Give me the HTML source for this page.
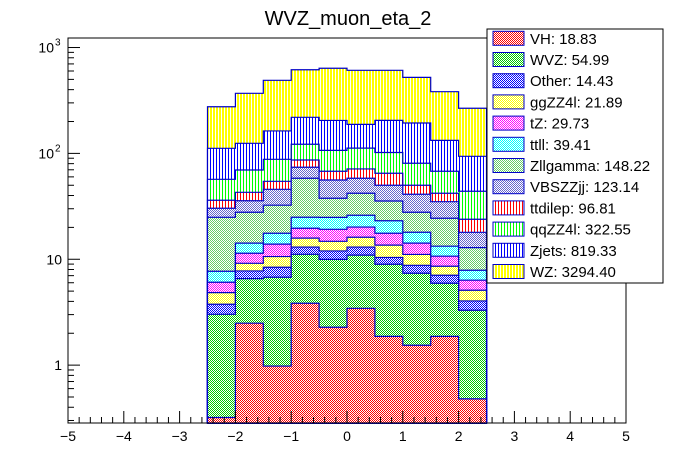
<!DOCTYPE html>
<html><head><meta charset="utf-8"><style>
html,body{margin:0;padding:0;background:#fff;}
svg{display:block;font-family:"Liberation Sans",Arial,sans-serif;}
pattern rect{shape-rendering:crispEdges;}
</style></head><body>
<svg id="chart" width="696" height="472" viewBox="0 0 696 472" xmlns="http://www.w3.org/2000/svg">
<defs>
<pattern id="p-red" width="2" height="2" patternUnits="userSpaceOnUse"><rect width="2" height="2" fill="#fff"/><rect width="1" height="1" fill="#f00"/><rect x="1" y="1" width="1" height="1" fill="#f00"/></pattern>
<pattern id="p-green" width="2" height="2" patternUnits="userSpaceOnUse"><rect width="2" height="2" fill="#fff"/><rect width="1" height="1" fill="#0c0"/><rect x="1" y="1" width="1" height="1" fill="#0c0"/></pattern>
<pattern id="p-blue" width="2" height="2" patternUnits="userSpaceOnUse"><rect width="2" height="2" fill="#fff"/><rect width="1" height="1" fill="#00f"/><rect x="1" y="1" width="1" height="1" fill="#00f"/></pattern>
<pattern id="p-yellow" width="2" height="2" patternUnits="userSpaceOnUse"><rect width="2" height="2" fill="#fff"/><rect width="1" height="1" fill="#ff0"/><rect x="1" y="1" width="1" height="1" fill="#ff0"/></pattern>
<pattern id="p-magenta" width="2" height="2" patternUnits="userSpaceOnUse"><rect width="2" height="2" fill="#fff"/><rect width="1" height="1" fill="#f0f"/><rect x="1" y="1" width="1" height="1" fill="#f0f"/></pattern>
<pattern id="p-cyan" width="2" height="2" patternUnits="userSpaceOnUse"><rect width="2" height="2" fill="#fff"/><rect width="1" height="1" fill="#0ff"/><rect x="1" y="1" width="1" height="1" fill="#0ff"/></pattern>
<pattern id="p-zllg" width="2" height="2" patternUnits="userSpaceOnUse"><rect width="2" height="2" fill="#fff"/><rect width="1" height="1" fill="#6c6"/><rect x="1" y="1" width="1" height="1" fill="#6c6"/></pattern>
<pattern id="p-vbs" width="2" height="2" patternUnits="userSpaceOnUse"><rect width="2" height="2" fill="#fff"/><rect width="1" height="1" fill="#66c"/><rect x="1" y="1" width="1" height="1" fill="#66c"/></pattern>
<pattern id="s-red" width="3" height="3" patternUnits="userSpaceOnUse"><rect width="3" height="3" fill="#fff"/><rect width="1" height="3" fill="#f00"/></pattern>
<pattern id="s-green" width="3" height="3" patternUnits="userSpaceOnUse"><rect width="3" height="3" fill="#fff"/><rect width="1" height="3" fill="#0f0"/></pattern>
<pattern id="s-blue" width="3" height="3" patternUnits="userSpaceOnUse"><rect width="3" height="3" fill="#fff"/><rect width="1" height="3" fill="#00f"/></pattern>
<pattern id="s-yellow" width="3" height="3" patternUnits="userSpaceOnUse"><rect width="3" height="3" fill="#fff"/><rect width="2" height="3" fill="#ff0"/></pattern>
</defs>
<text x="348" y="25" font-size="20" text-anchor="middle">WVZ_muon_eta_2</text>
<g id="bars"></g>
<g id="axes"></g>
<g id="legend"></g>
</svg>
<script>
const binEdgesLow = [-2.5,-2.0,-1.5,-1.0,-0.5,0.0,0.5,1.0,1.5,2.0];
const binWidth = 0.5;
const processNames = ["VH","WVZ","Other","ggZZ4l","tZ","ttll","Zllgamma","VBSZZjj","ttdilep","qqZZ4l","Zjets","WZ"];
const legendLabels = ["VH: 18.83","WVZ: 54.99","Other: 14.43","ggZZ4l: 21.89","tZ: 29.73","ttll: 39.41","Zllgamma: 148.22","VBSZZjj: 123.14","ttdilep: 96.81","qqZZ4l: 322.55","Zjets: 819.33","WZ: 3294.40"];
const fills = ["p-red","p-green","p-blue","p-yellow","p-magenta","p-cyan","p-zllg","p-vbs","s-red","s-green","s-blue","s-yellow"];
const valVH       = [0.32,2.49,0.98,3.84,2.28,3.44,1.87,1.54,1.87,0.48];
const valWVZ      = [2.7,4.07,5.78,7.3,7.7,7.5,7.1,5.84,4.06,2.82];
const valOther    = [0.74,1.2,1.64,1.9,2.0,2.1,1.43,1.39,1.13,0.74];
const valggZZ4l   = [1.08,1.4,2.2,2.8,2.8,3.1,3.2,2.33,1.53,1.06];
const valtZ       = [1.22,2.24,3.3,3.8,4.4,4.0,4.0,3.1,2.1,1.24];
const valttll     = [1.64,2.8,3.7,5.3,5.7,5.9,5.5,3.8,2.6,1.53];
const valZllgamma = [17.2,13.6,14.8,33.3,12.8,16,12.4,9.8,11.1,5.0];
const valVBSZZjj  = [5.4,7.9,13.4,15.7,18.4,16.2,14.5,13.3,10.6,5.1];
const valttdilep  = [5.8,7.2,8.7,12.7,11.7,13.1,14.9,8.9,7.0,5.9];
const valqqZZ4l   = [20.8,26.8,33.4,35.4,39,40.7,37.1,30.7,25.8,20];
const valZjets    = [54.8,54.8,75,97,98,76,103,113,65,50];
const valWZ       = [164,245,327,398,432,421,404,329,250,173];
const series = [valVH,valWVZ,valOther,valggZZ4l,valtZ,valttll,valZllgamma,valVBSZZjj,valttdilep,valqqZZ4l,valZjets,valWZ];
const xTickLabels = ["−5","−4","−3","−2","−1","0","1","2","3","4","5"];

const NS="http://www.w3.org/2000/svg";
const L=68,R=626,T=38,B=423, XMIN=-5,XMAX=5, YMIN=0.284, YMAX=1230;
const sx=v=>L+(v-XMIN)/(XMAX-XMIN)*(R-L);
const sy=v=>{v=Math.max(v,YMIN);return B-(Math.log10(v)-Math.log10(YMIN))/(Math.log10(YMAX)-Math.log10(YMIN))*(B-T);};
function mk(tag,attrs,parent){const e=document.createElementNS(NS,tag);for(const k in attrs)e.setAttribute(k,attrs[k]);parent.appendChild(e);return e;}

const cum=[];let run=binEdgesLow.map(()=>0);
series.forEach(s=>{run=run.map((r,i)=>r+s[i]);cum.push(run.slice());});
const bars=document.getElementById('bars');
for(let k=series.length-1;k>=0;k--){
  const c=cum[k];let d="M"+sx(binEdgesLow[0])+","+B;
  binEdgesLow.forEach((x0,i)=>{d+=" L"+sx(x0)+","+sy(c[i])+" L"+sx(x0+binWidth)+","+sy(c[i]);});
  d+=" L"+sx(binEdgesLow[binEdgesLow.length-1]+binWidth)+","+B+" Z";
  const p=mk('path',{d:d,fill:'url(#'+fills[k]+')',stroke:'#0000c8','stroke-width':1.2},bars);
  
  
}

const ax=document.getElementById('axes');
const frame=mk('rect',{x:L,y:T,width:R-L,height:B-T,fill:'none',stroke:'#000','stroke-width':1},ax);


for(let v=-5;v<=5.0001;v+=0.2){
  const major=Math.abs(v-Math.round(v))<1e-6;
  const half=Math.abs(v*2-Math.round(v*2))<1e-6;
  const len=major?12:(half?8:6);
  const t=mk('line',{x1:sx(v),x2:sx(v),y1:B,y2:B-len,stroke:'#000','stroke-width':1},ax);
  
  
}
xTickLabels.forEach((lab,i)=>{
  const t=mk('text',{x:sx(-5+i),y:441,'font-size':14,'text-anchor':'middle'},ax);
  t.textContent=lab;
  
  
});
for(let d=-1;d<=3;d++){
  for(let m=1;m<=9;m++){
    const v=m*Math.pow(10,d);
    if(v<YMIN||v>YMAX)continue;
    const len=m===1?12:6;
    const t=mk('line',{x1:L,x2:L+len,y1:sy(v),y2:sy(v),stroke:'#000','stroke-width':1},ax);
    
    
  }
}
[["1",null,1],["10",null,10],["10","2",100],["10","3",1000]].forEach(a=>{
  const t=mk('text',{x:a[1]?54:62,y:sy(a[2])+5,'font-size':14,'text-anchor':'end'},ax);
  t.textContent=a[0];
  
  
  if(a[1]){const s=mk('text',{x:55,y:sy(a[2])-2,'font-size':10},ax);s.textContent=a[1];
    
    }
});

const lg=document.getElementById('legend');
const box=mk('rect',{x:487,y:29,width:176,height:254,fill:'#fff',stroke:'#000','stroke-width':1},lg);


legendLabels.forEach((lab,i)=>{
  const cy=38.3+i*21.2;
  const g=mk('g',{},lg);
  
  
  mk('rect',{x:493,y:cy-7,width:31,height:14,fill:'url(#'+fills[i]+')',stroke:'#0000c8','stroke-width':1},g);
  const t=mk('text',{x:530,y:cy+5.5,'font-size':15},g);
  t.textContent=lab;
});
</script>
</body></html>
